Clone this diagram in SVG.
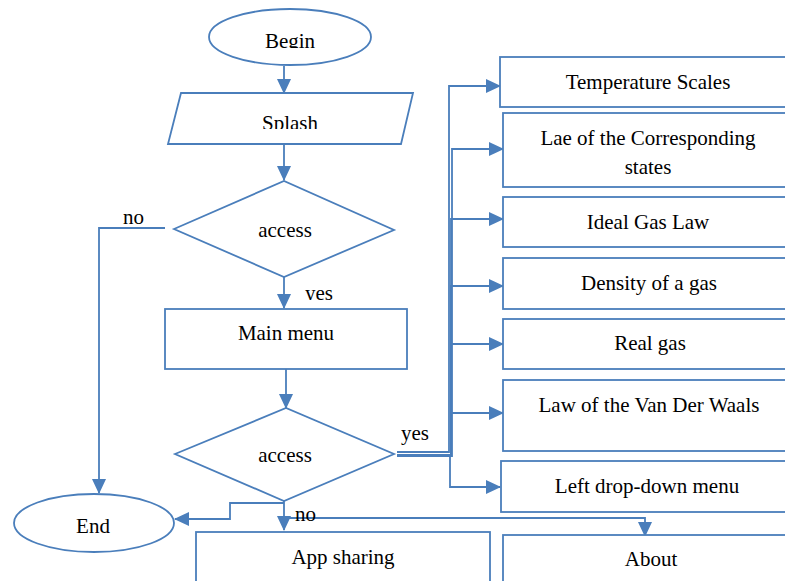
<svg xmlns="http://www.w3.org/2000/svg" width="785" height="581" viewBox="0 0 785 581">
  <style>
    .shape { fill: #ffffff; stroke: #4a7ebb; stroke-width: 1.8; }
    .wire { fill: none; stroke: #4a7ebb; stroke-width: 1.8; }
    .lbl { font-family: "Liberation Serif", "Times New Roman", serif; font-size: 21px; fill: #000000; text-anchor: middle; }
    .tag { font-family: "Liberation Serif", "Times New Roman", serif; font-size: 21px; fill: #000000; }
  </style>
  <defs>
    <marker id="arrow" markerUnits="userSpaceOnUse" markerWidth="15" markerHeight="14" refX="14" refY="7" orient="auto">
      <path d="M0,0 L15,7 L0,14 Z" fill="#4a7ebb"/>
    </marker>
    <!-- text boxes that cut off their own lower line -->
    <clipPath id="clipBegin"><rect x="200" y="10" width="180" height="38"/></clipPath>
    <clipPath id="clipSplash"><rect x="170" y="95" width="240" height="34"/></clipPath>
    <clipPath id="clipYes"><rect x="295" y="280" width="60" height="20"/></clipPath>
  </defs>

  <rect width="785" height="581" fill="#ffffff"/>

  <!-- connectors -->
  <g id="connectors">
    <line class="wire" x1="284" y1="66" x2="284" y2="93" marker-end="url(#arrow)"/>
    <line class="wire" x1="284" y1="145" x2="284" y2="180" marker-end="url(#arrow)"/>
    <line class="wire" x1="284" y1="277" x2="284" y2="308" marker-end="url(#arrow)"/>
    <line class="wire" x1="286" y1="369" x2="286" y2="408" marker-end="url(#arrow)"/>
    <!-- access (first) no branch to End -->
    <polyline class="wire" points="165,228 99,228 99,493" marker-end="url(#arrow)"/>
    <!-- access (second) yes branches to the topic boxes -->
    <path class="wire" d="M397,452 H449 V86 H500" marker-end="url(#arrow)"/>
    <path class="wire" d="M397,456 H452 V149 H503" marker-end="url(#arrow)"/>
    <path class="wire" d="M397,455 H451 V219 H503" marker-end="url(#arrow)"/>
    <path class="wire" d="M397,455 H451 V286 H503" marker-end="url(#arrow)"/>
    <path class="wire" d="M397,455 H451 V344 H503" marker-end="url(#arrow)"/>
    <path class="wire" d="M397,455 H451 V413 H503" marker-end="url(#arrow)"/>
    <path class="wire" d="M397,455 H450 V487 H500" marker-end="url(#arrow)"/>
    <!-- access (second) no branches -->
    <polyline class="wire" points="284,503 230,503 230,519 175,519" marker-end="url(#arrow)"/>
    <line class="wire" x1="284" y1="501" x2="284" y2="530" marker-end="url(#arrow)"/>
    <polyline class="wire" points="286,518 645,518 645,536" marker-end="url(#arrow)"/>
    <text class="tag" x="123" y="224">no</text>
    <text class="tag" x="305" y="300" clip-path="url(#clipYes)">yes</text>
    <text class="tag" x="401" y="440">yes</text>
    <text class="tag" x="295" y="521">no</text>
  </g>

  <g id="begin">
    <ellipse class="shape" cx="290" cy="37" rx="81" ry="28"/>
    <text class="lbl" x="290" y="48" clip-path="url(#clipBegin)">Begin</text>
  </g>

  <g id="splash">
    <polygon class="shape" points="181,93 413,93 401,144 168,144"/>
    <text class="lbl" x="290" y="130" clip-path="url(#clipSplash)">Splash</text>
  </g>

  <g id="access-login">
    <polygon class="shape" points="174,229 284,181 394,230 284,277"/>
    <text class="lbl" x="285" y="237">access</text>
  </g>

  <g id="main-menu">
    <rect class="shape" x="165" y="309" width="242" height="60"/>
    <text class="lbl" x="286" y="340">Main menu</text>
  </g>

  <g id="access-menu">
    <polygon class="shape" points="175,454 286,408 394,454 284,501"/>
    <text class="lbl" x="285" y="462">access</text>
  </g>

  <g id="end">
    <ellipse class="shape" cx="94" cy="523" rx="80" ry="29"/>
    <text class="lbl" x="93" y="533">End</text>
  </g>

  <g id="temperature-scales">
    <rect class="shape" x="500" y="57" width="295" height="50"/>
    <text class="lbl" x="648" y="89">Temperature Scales</text>
  </g>

  <g id="corresponding-states">
    <rect class="shape" x="503" y="113" width="292" height="74"/>
    <text class="lbl" x="648" y="145">Lae of the Corresponding</text>
    <text class="lbl" x="648" y="174">states</text>
  </g>

  <g id="ideal-gas-law">
    <rect class="shape" x="503" y="197" width="292" height="50"/>
    <text class="lbl" x="648" y="229">Ideal Gas Law</text>
  </g>

  <g id="density-of-a-gas">
    <rect class="shape" x="503" y="258" width="292" height="51"/>
    <text class="lbl" x="649" y="290">Density of a gas</text>
  </g>

  <g id="real-gas">
    <rect class="shape" x="503" y="319" width="292" height="50"/>
    <text class="lbl" x="650" y="350">Real gas</text>
  </g>

  <g id="van-der-waals">
    <rect class="shape" x="503" y="380" width="292" height="71"/>
    <text class="lbl" x="649" y="412">Law of the Van Der Waals</text>
  </g>

  <g id="left-menu">
    <rect class="shape" x="501" y="461" width="294" height="51"/>
    <text class="lbl" x="647" y="493">Left drop-down menu</text>
  </g>

  <g id="app-sharing">
    <rect class="shape" x="196" y="532" width="294" height="60"/>
    <text class="lbl" x="343" y="564">App sharing</text>
  </g>

  <g id="about">
    <rect class="shape" x="503" y="535" width="292" height="60"/>
    <text class="lbl" x="651" y="566">About</text>
  </g>
</svg>
